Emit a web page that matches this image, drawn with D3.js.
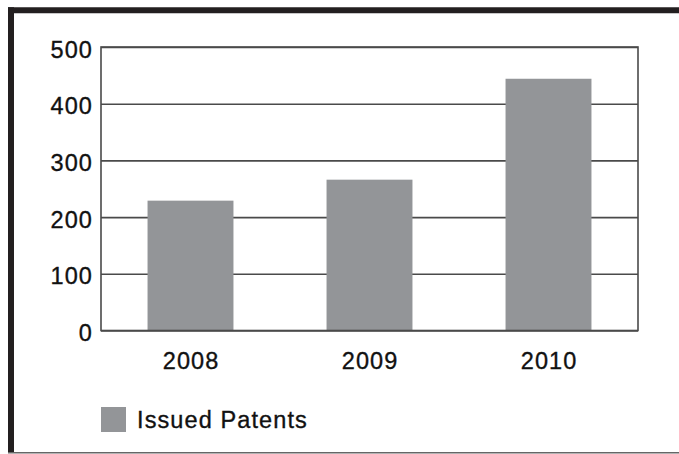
<!DOCTYPE html>
<html>
<head>
<meta charset="utf-8">
<script src="https://cdn.jsdelivr.net/npm/d3@7"></script>
<style>
  html, body { margin: 0; padding: 0; background: #fff; }
  svg { display: block; }
  text { font-family: "Liberation Sans", Arial, Helvetica, sans-serif; fill: #111; stroke: #111; stroke-width: 0.35px; }
</style>
</head>
<body>
<div id="chart"></div>
<script>
const years = ["2008", "2009", "2010"]
const patents = [229, 266, 444]
const yTicks = [0, 100, 200, 300, 400, 500]
const seriesName = "Issued Patents"

const width = 679
const height = 454
const margin = [47, 41, 123, 101] // top right bottom left
const barColor = "#939598"
const lineColor = "#4a4a4a"
const fontSize = 23.5
const spacing = 1.1

const svg = d3.create("svg")
  .attr("width", width)
  .attr("height", height)
  .attr("viewBox", [0, 0, width, height])

const x = d3.scaleBand()
  .domain(years)
  .range([margin[3], width - margin[1]])
  .paddingInner(0.52)
  .paddingOuter(0.26)

const y = d3.scaleLinear()
  .domain([0, 500])
  .range([height - margin[2] - 0.5, margin[0]])

// outer frame: heavy left/top rule, thin bottom rule
svg.append("line")
  .attr("x1", 8).attr("x2", width).attr("y1", 10.3).attr("y2", 10.3)
  .attr("stroke", "#231f20").attr("stroke-width", 6)
svg.append("line")
  .attr("x1", 11).attr("x2", 11).attr("y1", 7.3).attr("y2", 453)
  .attr("stroke", "#231f20").attr("stroke-width", 6)
svg.append("line")
  .attr("x1", 8).attr("x2", width).attr("y1", 452.7).attr("y2", 452.7)
  .attr("stroke", "#666").attr("stroke-width", 1.5)

// gridlines (behind bars)
const yAxis = d3.axisLeft(y)
  .tickValues(yTicks)
  .tickSize(0)
  .tickPadding(0)

svg.append("g")
  .attr("transform", `translate(${margin[3]},0)`)
  .call(yAxis)
  .call(g => g.select(".domain").remove())
  .call(g => g.selectAll(".tick line")
    .attr("x2", width - margin[1] - margin[3])
    .attr("stroke", lineColor)
    .attr("stroke-width", 1.6))
  .call(g => g.selectAll(".tick text")
    .attr("x", -8)
    .attr("dy", "0.43em")
    .attr("fill", "#111")
    .style("font-size", fontSize + "px")
    .style("letter-spacing", spacing + "px"))

// bars
svg.append("g")
  .attr("fill", barColor)
  .selectAll("rect")
  .data(patents)
  .join("rect")
  .attr("x", (d, i) => x(years[i]))
  .attr("y", d => y(d))
  .attr("width", x.bandwidth())
  .attr("height", d => y(0) - y(d))

// plot frame
svg.append("rect")
  .attr("x", margin[3])
  .attr("y", margin[0])
  .attr("width", width - margin[1] - margin[3])
  .attr("height", y(0) - margin[0])
  .attr("fill", "none")
  .attr("stroke", lineColor)
  .attr("stroke-width", 1.6)

// x labels
const xAxis = d3.axisBottom(x).tickSize(0).tickPadding(0)
svg.append("g")
  .attr("transform", `translate(0,${y(0)})`)
  .call(xAxis)
  .call(g => g.select(".domain").remove())
  .call(g => g.selectAll(".tick text")
    .attr("y", 38)
    .attr("dy", 0)
    .attr("dx", spacing / 2)
    .attr("fill", "#111")
    .style("font-size", fontSize + "px")
    .style("letter-spacing", spacing + "px"))

// legend
const legend = svg.append("g").attr("transform", "translate(101,407)")
legend.append("rect")
  .attr("width", 25).attr("height", 25)
  .attr("fill", barColor)
legend.append("text")
  .attr("x", 36)
  .attr("y", 21)
  .style("font-size", fontSize + "px")
  .style("letter-spacing", spacing + "px")
  .text(seriesName)

document.querySelector("#chart").append(svg.node())
</script>
</body>
</html>
